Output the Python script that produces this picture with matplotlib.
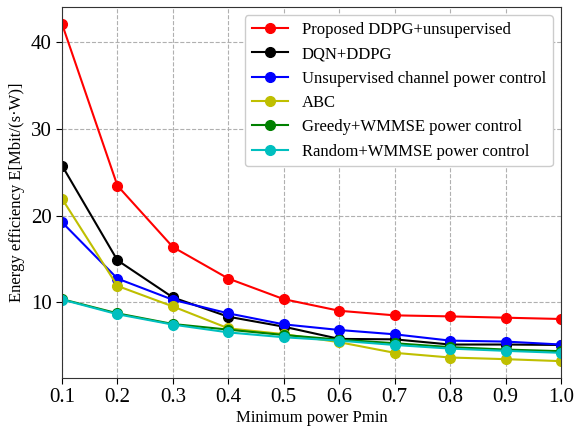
import matplotlib.pyplot as plt

# Minimum power constraint (x axis) and energy efficiency per method
pmin = [0.1, 0.2, 0.3, 0.4, 0.5, 0.6, 0.7, 0.8, 0.9, 1.0]

ddpg_unsup = [42.15, 23.45, 16.36, 12.72, 10.34, 9.0, 8.47, 8.35, 8.2, 8.05]
dqn_ddpg = [25.78, 14.83, 10.54, 8.31, 7.16, 5.75, 5.7, 5.1, 5.1, 5.05]
unsup_channel = [19.23, 12.72, 10.27, 8.7, 7.43, 6.78, 6.28, 5.55, 5.44, 5.1]
abc = [21.95, 11.87, 9.5, 6.97, 6.3, 5.37, 4.14, 3.6, 3.41, 3.18]
greedy_wmmse = [10.34, 8.7, 7.47, 6.82, 6.2, 5.67, 5.25, 4.8, 4.52, 4.33]
random_wmmse = [10.3, 8.6, 7.4, 6.5, 5.94, 5.55, 5.05, 4.63, 4.37, 4.14]

labels = [
    'Proposed DDPG+unsupervised',
    'DQN+DDPG',
    'Unsupervised channel power control',
    'ABC',
    'Greedy+WMMSE power control',
    'Random+WMMSE power control',
]
series = [ddpg_unsup, dqn_ddpg, unsup_channel, abc, greedy_wmmse, random_wmmse]
colors = ['r', 'k', 'b', 'y', 'g', 'c']

plt.rcParams['font.family'] = ['Liberation Serif', 'DejaVu Serif']

fig = plt.figure(figsize=(5.76, 4.34), dpi=100)
ax = fig.add_axes([0.1076, 0.129, 0.8664, 0.855])

for vals, col, lab in zip(series, colors, labels):
    ax.plot(pmin, vals, color=col, marker='o', markersize=7,
            linewidth=1.5, label=lab)

ax.set_xlim(0.1, 1.0)
ax.set_xticks(pmin)
ax.set_xticklabels([f'{v:.1f}' for v in pmin])
ax.set_yticks([10, 20, 30, 40])
ax.tick_params(labelsize=15, direction='out', length=4)
ax.grid(True, linestyle='--', color='#b0b0b0', linewidth=0.8)

ax.set_xlabel('Minimum power Pmin', fontsize=12, labelpad=2)
ax.set_ylabel('Energy efficiency E[Mbit/(s\u00b7W)]', fontsize=12, labelpad=4)

for s in ax.spines.values():
    s.set_color('#333333')

ax.legend(loc='upper right', fontsize=12, frameon=True, fancybox=True,
          edgecolor='#cccccc', framealpha=1.0, handlelength=2.2,
          borderaxespad=0.5, labelspacing=0.5)

plt.savefig('out.png', dpi=100)
